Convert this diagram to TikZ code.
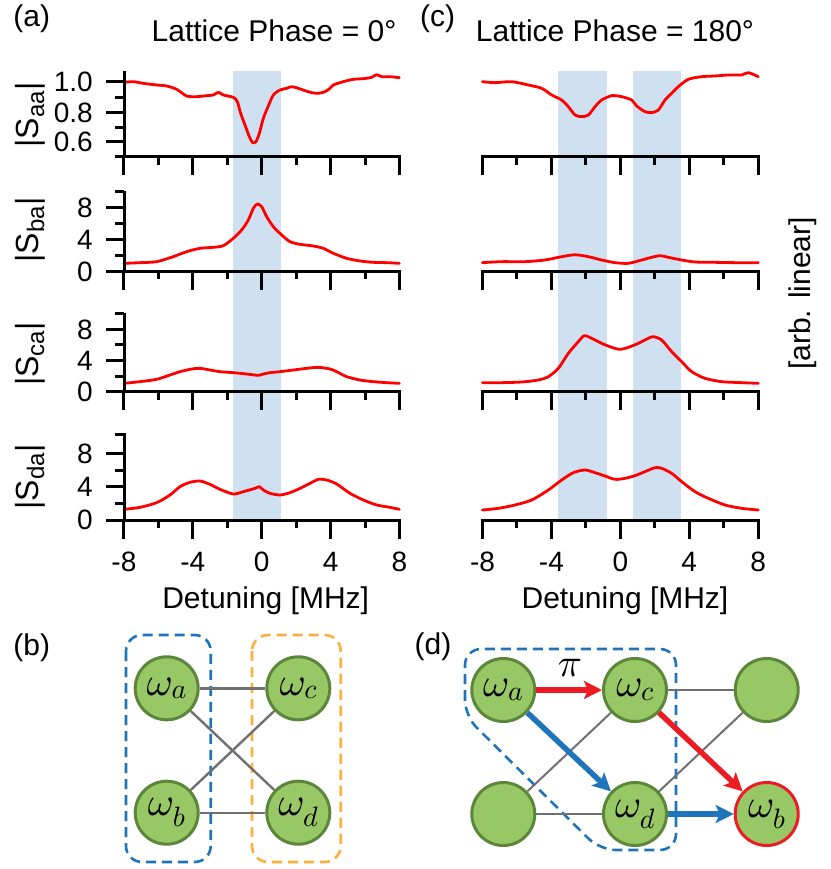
\documentclass[tikz,border=0pt]{standalone}
\usepackage{fontspec}
\setmainfont{Liberation Sans}
\DeclareFontShape{OML}{cmm}{m}{it}{<-6>cmmi5<6-8>cmmi7<8->cmmi10}{}
\usetikzlibrary{arrows.meta}
\definecolor{shadeblue}{RGB}{207,225,240}
\definecolor{nodegreen}{RGB}{151,200,101}
\definecolor{nodeedge}{RGB}{92,135,58}
\definecolor{edgegray}{RGB}{112,112,112}
\definecolor{dblue}{RGB}{30,117,187}
\definecolor{dorange}{RGB}{252,176,64}
\definecolor{ared}{RGB}{237,28,36}
\definecolor{ablue}{RGB}{30,117,187}
\newcommand{\absS}[1]{|S\raisebox{-6pt}{\fontsize{24}{28}\selectfont #1}|}
\begin{document}
\begin{tikzpicture}[x=1pt,y=-1pt,
  axisl/.style={line width=3pt},
  datacurve/.style={red, line width=2.8pt, line join=round, line cap=round},
  big/.style={font=\fontsize{30}{36}\selectfont, inner sep=0pt},
  ylab/.style={font=\fontsize{32}{36}\selectfont, inner sep=0pt, rotate=90},
  ticklab/.style={font=\fontsize{28}{32}\selectfont, inner sep=0pt},
  res/.style={circle, draw=nodeedge, fill=nodegreen, line width=3pt, minimum size=63pt, inner sep=0pt, font=\fontsize{40}{44}\selectfont},
  coup/.style={draw=edgegray, line width=2.4pt},
  grpbox/.style={line width=2.6pt, dash pattern=on 10pt off 6pt, rounded corners=16pt},
  redflow/.style={draw=ared, line width=5.5pt, -{Stealth[length=18pt,width=18pt,inset=4pt]}},
  blueflow/.style={draw=ablue, line width=5.5pt, -{Stealth[length=18pt,width=18pt,inset=4pt]}}]
\useasboundingbox (0,0) rectangle (830,869);
\fill[white] (0,0) rectangle (830,869);

% shaded bands
\fill[shadeblue] (233,71) rectangle (281,520);
\fill[shadeblue] (558.3,71) rectangle (606.7,520);
\fill[shadeblue] (632.7,71) rectangle (680.7,520);

% data curves (coordinates of 3x crops)
\draw[datacurve, scale=1/3] plot[smooth, tension=0.45] coordinates {(372,247) (400,245) (430,250) (470,255) (500,258) (530,268) (560,288) (590,290) (620,287) (640,285) (655,277) (670,285) (700,292) (712,305) (722,340) (735,375) (748,410) (758,428) (768,425) (778,400) (790,355) (805,318) (820,285) (840,270) (860,265) (875,260) (895,265) (915,272) (935,278) (955,280) (975,275) (990,265) (1000,255) (1030,245) (1060,238) (1090,236) (1115,232) (1130,224) (1145,230) (1170,230) (1198,233)};
\draw[datacurve, scale=1/3] plot[smooth, tension=0.45] coordinates {(372,790) (420,788) (470,785) (520,770) (560,755) (600,745) (640,742) (670,737) (700,715) (725,690) (745,660) (760,625) (772,612) (785,620) (800,650) (820,680) (845,705) (870,725) (900,733) (940,738) (970,745) (1000,760) (1040,775) (1080,783) (1120,787) (1160,788) (1198,790)};
\draw[datacurve, shift={(415,0)}, scale=1/3] plot[smooth, tension=0.45] coordinates {(202,245) (240,248) (290,245) (340,255) (380,265) (410,285) (440,300) (460,320) (480,345) (500,350) (520,345) (540,320) (560,300) (590,287) (620,290) (650,300) (665,318) (690,335) (710,338) (730,330) (750,300) (770,280) (790,260) (820,238) (860,230) (900,228) (940,225) (980,225) (1000,218) (1030,230)};
\draw[datacurve, shift={(415,0)}, scale=1/3] plot[smooth, tension=0.45] coordinates {(202,788) (260,785) (330,785) (390,780) (430,772) (470,765) (490,765) (520,770) (560,780) (600,788) (640,790) (680,780) (710,772) (735,767) (760,772) (800,780) (840,786) (900,787) (960,788) (1030,788)};
\draw[datacurve, shift={(0,290)}, scale=1/3] plot[smooth, tension=0.45] coordinates {(372,280) (420,275) (470,268) (510,255) (540,245) (575,237) (600,235) (630,240) (660,245) (700,248) (740,252) (775,256) (790,252) (810,248) (840,245) (880,240) (920,235) (955,232) (990,237) (1010,245) (1040,260) (1080,270) (1120,275) (1160,278) (1198,280)};
\draw[datacurve, shift={(0,290)}, scale=1/3] plot[smooth, tension=0.45] coordinates {(372,658) (420,652) (470,638) (510,615) (540,590) (570,577) (600,573) (630,583) (660,598) (700,612) (730,605) (765,595) (778,590) (790,600) (810,610) (840,615) (870,608) (900,595) (930,580) (955,568) (980,570) (1010,582) (1050,610) (1090,630) (1130,645) (1170,652) (1198,658)};
\draw[datacurve, shift={(415,290)}, scale=1/3] plot[smooth, tension=0.45] coordinates {(202,278) (260,278) (320,276) (370,270) (400,260) (430,235) (460,190) (490,155) (508,137) (530,145) (560,160) (590,172) (615,178) (640,172) (670,160) (700,145) (715,140) (740,150) (770,185) (800,215) (830,245) (870,265) (920,275) (980,278) (1030,280)};
\draw[datacurve, shift={(415,290)}, scale=1/3] plot[smooth, tension=0.45] coordinates {(202,660) (250,655) (300,645) (350,630) (400,600) (440,570) (475,548) (510,540) (540,548) (570,558) (600,568) (630,565) (660,557) (690,545) (720,533) (740,535) (770,550) (800,575) (840,605) (880,625) (930,645) (980,655) (1030,660)};

% x axes with ticks
\foreach \yb in {157,271.3,391.7,520}{
  \foreach \xo in {261.7,620.3}{
    \foreach \m in {-8,-4,0,4,8} \draw[axisl] ({\xo+17.22*(\m)},\yb) -- ++(0,18.5);
    \foreach \m in {-6,-2,2,6} \draw[axisl] ({\xo+17.22*(\m)},\yb) -- ++(0,8);
  }
  \draw[axisl] (480.8,\yb) -- (759.9,\yb);
}
\draw[axisl] (115,157) -- (400.8,157);
\foreach \yb in {271.3,391.7,520} \draw[axisl] (106,\yb) -- (400.8,\yb);

% y axes
\draw[axisl] (124,71.5) -- (124,157);
\draw[axisl] (124,191) -- (124,271.3);
\draw[axisl] (124,312.7) -- (124,391.7);
\draw[axisl] (124,433.3) -- (124,520);
\foreach \yt in {81.7,112.3,141.7,207.3,239.3,329.3,360,453.3,486} \draw[axisl] (124,\yt) -- (106,\yt);
\foreach \yt in {97.7,127.7,191.3,223.3,255.3,313.7,344.9,376.1,434.5,470,503.3} \draw[axisl] (124,\yt) -- (115,\yt);

% y tick labels
\node[ticklab, anchor=east] (t10) at (93,82) {1.0};
\node[ticklab, anchor=east] (t08) at (93,112.5) {0.8};
\node[ticklab, anchor=east] (t06) at (93,142) {0.6};
\node[ticklab, anchor=east] (b8) at (93,207.5) {8};
\node[ticklab, anchor=east] (b4) at (93,239.5) {4};
\node[ticklab, anchor=east] (b0) at (93,271.5) {0};
\node[ticklab, anchor=east] (c8) at (93,329.5) {8};
\node[ticklab, anchor=east] (c4) at (93,360.5) {4};
\node[ticklab, anchor=east] (c0) at (93,392) {0};
\node[ticklab, anchor=east] (d8) at (93,453.5) {8};
\node[ticklab, anchor=east] (d4) at (93,486.5) {4};
\node[ticklab, anchor=east] (d0) at (93,520) {0};

% x tick labels
\foreach \xo/\p in {261.7/L,620.3/R}{
  \foreach \m/\s in {-8/-8,-4/-4,0/0,4/4,8/8}
    \node[ticklab] (x\p\m) at ({\xo+17.22*(\m)},561.7) {\s};
}
\node[big, anchor=base] (xlabL) at (265.7,608.5) {Detuning [MHz]};
\node[big, anchor=base] (xlabR) at (625,608.5) {Detuning [MHz]};

% y labels
\node[ylab] (yaa) at (30,115) {\absS{aa}};
\node[ylab] (yba) at (30,230) {\absS{ba}};
\node[ylab] (yca) at (30,354) {\absS{ca}};
\node[ylab] (yda) at (30,477) {\absS{da}};
\node[big, rotate=90] (arb) at (803,293.5) {[arb. linear]};

% titles and panel labels
\node[big, anchor=base] (titA) at (274,41.7) {Lattice Phase = 0°};
\node[big, anchor=base] (titC) at (615,41.7) {Lattice Phase = 180°};
\node[big, anchor=base] (la) at (31.7,27) {(a)};
\node[big, anchor=base] (lc) at (437.5,27) {(c)};
\node[big, anchor=base] (lb) at (31.7,655) {(b)};
\node[big, anchor=base] (ld) at (433,654) {(d)};

% (b) diagram
\draw[grpbox, draw=dblue] (126,635) rectangle (210.7,862);
\draw[grpbox, draw=dorange] (252,635) rectangle (340.7,862);
\node[res] (ba) at (166.7,688.3) {$\omega_a$};
\node[res] (bc) at (298.3,688.3) {$\omega_c$};
\node[res] (bb) at (166.7,812.7) {$\omega_b$};
\node[res] (bd) at (298.3,812.7) {$\omega_d$};
\draw[coup] (ba) -- (bc);
\draw[coup] (bb) -- (bd);
\draw[coup] (ba) -- (bd);
\draw[coup] (bb) -- (bc);

% (d) diagram
\draw[grpbox, draw=dblue] (465,716) -- (465,649) -- (676,649) -- (676,850) -- (600,850) -- cycle;
\node[res] (da) at (503.3,690) {$\omega_a$};
\node[res] (dc) at (635,690) {$\omega_c$};
\node[res] (dtr) at (766.7,690) {};
\node[res] (dbl) at (503.3,814) {};
\node[res] (dd) at (635,814) {$\omega_d$};
\node[res, draw=ared] (db) at (766.7,814) {$\omega_b$};
\draw[coup, line width=2pt] (dc) -- (dtr);
\draw[coup, line width=2pt] (dbl) -- (dd);
\draw[coup, line width=2pt] (dbl) -- (dc);
\draw[coup, line width=2pt] (dd) -- (dtr);
\draw[redflow] (da) -- (dc);
\draw[redflow] (dc) -- (db);
\draw[blueflow] (da) -- (dd);
\draw[blueflow] (dd) -- (db);
\node[font=\fontsize{40}{44}\selectfont, inner sep=0pt] (pi) at (570,668) {$\pi$};
\end{tikzpicture}
\end{document}
